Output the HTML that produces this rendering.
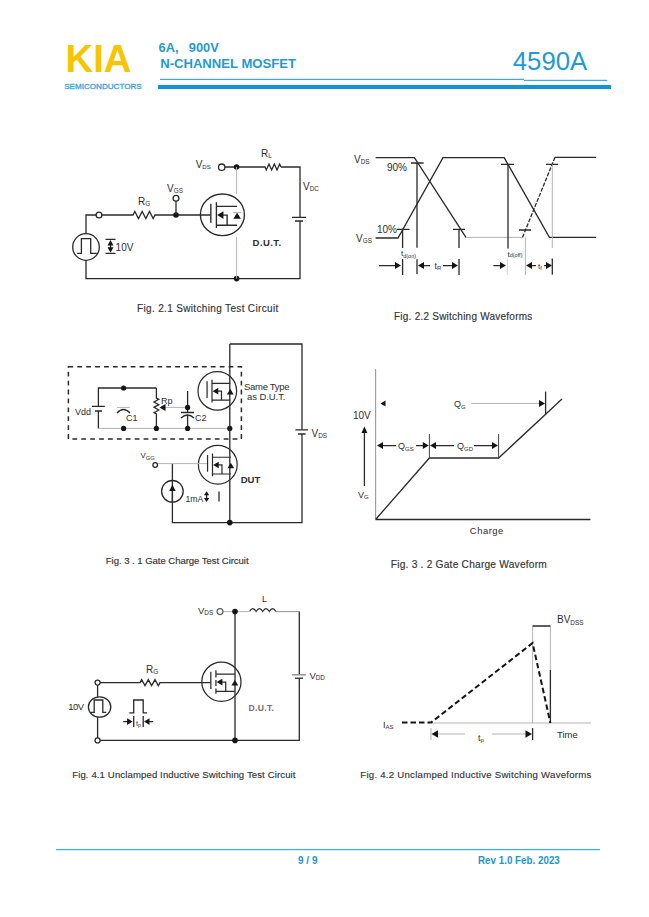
<!DOCTYPE html>
<html><head><meta charset="utf-8">
<style>
html,body{margin:0;padding:0;background:#fff;width:649px;height:917px;overflow:hidden}
svg{display:block;font-family:"Liberation Sans",sans-serif}
.w{stroke:#2a2a2a;stroke-width:1.3;fill:none}
.lg{stroke:#b5b5b5;stroke-width:1;fill:none}
.t{fill:#2e2e2e}
.dot{fill:#151515}
.arr{fill:#151515}
</style></head>
<body>
<svg width="649" height="917" viewBox="0 0 649 917">
<text x="65.5" y="72" font-size="38.5" font-weight="bold" fill="#f7c400" textLength="66" lengthAdjust="spacingAndGlyphs">KIA</text><text x="64.2" y="89.1" font-size="8.1" fill="#3aa8e0" stroke="#3aa8e0" stroke-width="0.35" textLength="77.5" lengthAdjust="spacing">SEMICONDUCTORS</text><text y="51.9" font-size="12.8" font-weight="bold" fill="#1f9ad5"><tspan x="158.6">6A,</tspan><tspan x="188.8">900V</tspan></text><text x="160.2" y="68.4" font-size="12.8" font-weight="bold" fill="#1f9ad5" textLength="135.8" lengthAdjust="spacingAndGlyphs">N-CHANNEL MOSFET</text><text x="512.8" y="70.2" font-size="25" fill="#1f9ad5" textLength="74.5" lengthAdjust="spacingAndGlyphs">4590A</text><rect x="160" y="78.8" width="364" height="1.1" fill="#2aa2dc"/><rect x="524" y="79.8" width="83.3" height="1.1" fill="#2aa2dc"/><rect x="158" y="85" width="453" height="4" fill="#0f96d2"/><rect x="56" y="849" width="544" height="1.2" fill="#3aaee6"/><text x="298" y="863.6" font-size="10" font-weight="bold" fill="#1d93cf">9 / 9</text><text x="478" y="863.6" font-size="10" font-weight="bold" fill="#1d93cf" textLength="81.8" lengthAdjust="spacingAndGlyphs">Rev 1.0 Feb. 2023</text><circle class="w" cx="86" cy="247" r="13.3"/><path class="w" d="M77.1,253.4H81.4V238.6H90.7V253.4H96.8"/><path class="w" d="M86,233.7V215H96.4"/><circle class="w" cx="99" cy="215" r="2.9"/><path class="w" d="M101.6,215H133l1.83,-3.50l3.67,7.00l3.67,-7.00l3.67,7.00l3.67,-7.00l3.67,7.00L155,215H200.3M200.3,215H210.5"/><circle class="dot" cx="176" cy="215" r="2.8"/><path class="w" d="M176,215V201.2"/><circle class="w" cx="176" cy="198.3" r="2.9"/><path class="w" d="M86,260.3V278.6H300V221M300,217.4V167H281"/><path class="w" stroke-width="1.8" d="M292,217.4H306M295,221H303"/><path class="w" d="M281,167l-1.33,-3.00l-2.67,6.00l-2.67,-6.00l-2.67,6.00l-2.67,-6.00l-2.67,6.00L265,167H224.8"/><circle class="w" cx="221.7" cy="167.2" r="3.2"/><circle class="dot" cx="236.6" cy="167" r="2.8"/><circle class="dot" cx="236.6" cy="278.6" r="2.8"/><path class="lg" d="M236.6,167V194M236.6,237V278.6"/><g transform="translate(222.4,214.8) scale(1.05)"><ellipse class="w" cx="0" cy="0" rx="20.95" ry="19.81"/><path class="w" d="M-11,-10.5V7.5M-5.7,-12V12.5M-5.7,-8H14M-5.7,10H14M0.5,0.3H4.5V10"/><path class="arr" d="M-5,0.3l6,-3.6v7.2z"/><path class="arr" d="M14,-2l-3.6,5.8h7.2z"/><path class="lg" d="M10,-2.2H18"/></g><path class="w" d="M105.5,239.4H115.5M105.5,253.4H115.5M110.5,243V250"/><path class="arr" d="M110.5,240l-3,5.5h6z M110.5,252.8l-3,-5.5h6z"/><text class="t" x="115.6" y="251" font-size="10" >10V</text><text class="t" x="252.6" y="245.8" font-size="9.5" font-weight="bold" textLength="28.6" lengthAdjust="spacing">D.U.T.</text><text class="t" x="195.7" y="168.4" font-size="10" >V<tspan font-size="6.2" dy="1">DS</tspan></text><text class="t" x="167" y="192" font-size="10" >V<tspan font-size="6.4" dy="1.3">GS</tspan></text><text class="t" x="138" y="205" font-size="10" >R<tspan font-size="6.4" dy="1.3">G</tspan></text><text class="t" x="261" y="157" font-size="10" >R<tspan font-size="6.4" dy="1.3">L</tspan></text><text class="t" x="303" y="190" font-size="10" >V<tspan font-size="6.4" dy="1.3">DC</tspan></text><text class="t" x="137" y="312.3" font-size="10" stroke="#444" stroke-width="0.15" textLength="141.3" lengthAdjust="spacing">Fig. 2.1 Switching Test Circuit</text><path class="w" d="M375.6,157.6H414.4L466,237.4"/><path class="lg" d="M466,237.4H522"/><path class="w" d="M375.6,238H398L443,157.6H504.2L549.4,237.4H596"/><path class="w" d="M522.5,237.4L555,157.3" stroke-dasharray="4,1.5"/><path class="w" d="M555,157.3H596"/><path class="w" d="M411,163H423.6M417,163V247.7M417,259.3V274M397,229.4H409.6M402.6,229.4V248M402.6,259V275M453,229.4H465M459,229.4V248M459,259V275"/><path class="w" d="M501,164.4H514M508,164.4V248.6M546,164.4H558M519,230H531"/><path class="lg" d="M552.3,164.4V248M525.4,237.4V275"/><path stroke="#ddd" stroke-width="1" d="M507.5,259V275"/><path class="w" d="M552.3,258.5V274.7"/><path class="w" d="M379,265.6H396M422,265.6H430M443,265.6H453M493.4,265.6H501M531,265.6H536M544,265.6H547"/><path class="arr" d="M401,265.6l-6,-3.5v7z M418,265.6l6,-3.5v7z M458,265.6l-6,-3.5v7z M506,265.6l-6,-3.5v7z M526,265.6l6,-3.5v7z M552,265.6l-6,-3.5v7z"/><text class="t" x="354" y="163" font-size="10" >V<tspan font-size="6.4" dy="1.3">DS</tspan></text><text class="t" x="356" y="242" font-size="10" >V<tspan font-size="6.4" dy="1.3">GS</tspan></text><text class="t" x="387" y="171" font-size="10" >90%</text><text class="t" x="377" y="233" font-size="10" >10%</text><text class="t" x="401" y="256" font-size="8" >t<tspan font-size="5.5" dy="1.5">d(on)</tspan></text><text class="t" x="434.5" y="268.8" font-size="9" >t<tspan font-size="6" dy="0.8">R</tspan></text><text class="t" x="507.5" y="256.6" font-size="8" >t<tspan font-size="5.5" dy="0.8">d(off)</tspan></text><text class="t" x="538" y="268.5" font-size="8" >t<tspan font-size="5.5" dy="1">f</tspan></text><text class="t" x="394" y="320" font-size="10" stroke="#444" stroke-width="0.15" textLength="138.3" lengthAdjust="spacing">Fig. 2.2 Switching Waveforms</text><rect x="68.4" y="366.8" width="173" height="72.2" fill="none" stroke="#2a2a2a" stroke-width="1.5" stroke-dasharray="4.8,4.1"/><path class="w" d="M98.4,406.4V388H156.4M98.4,411V428.4"/><path class="w" stroke-width="1.8" d="M92,406.4H104.8M95,411H102"/><path class="lg" d="M98.4,428.4H229.6"/><path class="lg" d="M117,407.4H130"/><path class="w" d="M117,413Q123.5,406 130,413"/><path class="w" d="M156.4,388V398l2.40,1.33l-4.80,2.67l4.80,2.67l-4.80,2.67l4.80,2.67l-4.80,2.67L156.4,414V428.4"/><path class="lg" d="M164,407.4H187.6"/><path class="arr" d="M159.5,407.4l6,-3.5v7z"/><path class="w" d="M187.6,391V407.4"/><path class="w" d="M187.6,407.4V412M181,412.5H194M181,418Q187.6,412 194,418M187.6,415V428.4"/><circle class="dot" cx="123.6" cy="388" r="2.6"/><circle class="dot" cx="123.6" cy="428.4" r="2.6"/><circle class="dot" cx="156.4" cy="428.4" r="2.6"/><circle class="dot" cx="187.6" cy="407.4" r="2.6"/><circle class="dot" cx="187.6" cy="428.4" r="2.6"/><circle class="dot" cx="229.8" cy="428.4" r="2.6"/><path class="w" d="M229.8,344V522.6M229.8,344H302V429.8M302,434V522.6H172.4V463.4"/><path class="w" stroke-width="1.8" d="M295.4,429.8H308M298,434H305.6"/><g transform="translate(217.3,390.9) scale(0.93)"><ellipse class="w" cx="0" cy="0" rx="20.75" ry="20.75"/><path class="w" d="M-11,-10.5V7.5M-5.7,-12V12.5M-5.7,-8H14M-5.7,10H14M0.5,0.3H4.5V10"/><path class="arr" d="M-5,0.3l6,-3.6v7.2z"/><path class="arr" d="M14,-2l-3.6,5.8h7.2z"/></g><g transform="translate(217.8,464.7) scale(0.93)"><ellipse class="w" cx="0" cy="0" rx="20.86" ry="20.86"/><path class="w" d="M-11,-10.5V7.5M-5.7,-12V12.5M-5.7,-8H14M-5.7,10H14M0.5,0.3H4.5V10"/><path class="arr" d="M-5,0.3l6,-3.6v7.2z"/><path class="arr" d="M14,-2l-3.6,5.8h7.2z"/></g><circle class="dot" cx="229.8" cy="522.6" r="2.8"/><path class="lg" d="M157.8,463.6H207"/><circle class="w" cx="155.2" cy="465" r="2.3"/><circle class="w" cx="172.4" cy="491.3" r="10.8"/><path class="w" d="M172.4,490V502"/><path class="arr" d="M172.4,484.5l-3.2,6.5h6.4z"/><path class="w" d="M206.6,494V499M219,491.6V501.6"/><path class="arr" d="M206.6,491.2l-2.6,4h5.2z M206.6,502l-2.6,-4h5.2z"/><text class="t" x="185.5" y="501.6" font-size="8.6" >1mA</text><text class="t" x="140.5" y="457.8" font-size="7.8" >V<tspan font-size="5.8" dy="1.8">GG</tspan></text><text class="t" x="240.7" y="483" font-size="9.5" font-weight="bold">DUT</text><text class="t" x="311.5" y="437" font-size="10" >V<tspan font-size="6.4" dy="1.3">DS</tspan></text><text class="t" x="244" y="390.2" font-size="9.5"  textLength="45.5" lengthAdjust="spacing">Same Type</text><text class="t" x="247" y="400.2" font-size="9.5"  textLength="38.5" lengthAdjust="spacing">as D.U.T.</text><text class="t" x="161" y="404" font-size="9" >Rp</text><text class="t" x="195" y="421" font-size="9" >C2</text><text class="t" x="126" y="421" font-size="9" >C1</text><text class="t" x="75" y="415" font-size="9" >Vdd</text><text class="t" x="105.8" y="564.2" font-size="9.6" stroke="#444" stroke-width="0.15" textLength="142.8" lengthAdjust="spacing">Fig. 3 . 1 Gate Charge Test Circuit</text><path stroke="#999" stroke-width="1.1" fill="none" d="M375.6,369V519.5"/><path class="w" d="M375.6,519.5H590.4M375.6,519.5L429.4,458H498.6L562,399"/><path stroke="#444" stroke-width="1" fill="none" d="M429.4,434V458M498.6,434V458"/><path class="w" d="M545.6,391.6V414.5"/><path class="w" d="M382,445.6H396M416,445.6H424M434,445.6H454M474,445.6H493"/><path class="lg" d="M471,403.4H540"/><path class="arr" d="M377,445.6l6,-3.5v7z M428.8,445.6l-6,-3.5v7z M430,445.6l6,-3.5v7z M498,445.6l-6,-3.5v7z M545,403.4l-6,-3.5v7z M380.5,403.4l5,-3v6z"/><path class="w" d="M364.4,432V486"/><path class="arr" d="M364.4,426.6l-3,6.5h6z"/><text class="t" x="353" y="418.5" font-size="10" >10V</text><text class="t" x="358" y="498.3" font-size="9" >V<tspan font-size="6" dy="1">G</tspan></text><text class="t" x="398" y="449" font-size="9" >Q<tspan font-size="6" dy="1.5">GS</tspan></text><text class="t" x="457" y="449" font-size="9" >Q<tspan font-size="6" dy="1.5">GD</tspan></text><text class="t" x="454" y="407" font-size="9" >Q<tspan font-size="6" dy="1.5">G</tspan></text><text class="t" x="469.8" y="534.3" font-size="9.4"  textLength="33.5" lengthAdjust="spacing">Charge</text><text class="t" x="390.8" y="567.6" font-size="10.2" stroke="#444" stroke-width="0.15" textLength="156" lengthAdjust="spacing">Fig. 3 . 2 Gate Charge Waveform</text><circle class="w" cx="97.6" cy="682.6" r="2.5"/><path class="w" d="M100.1,682.6H140l1.67,-3.00l3.33,6.00l3.33,-6.00l3.33,6.00l3.33,-6.00l3.33,6.00L160,682.6H210.5"/><path class="w" d="M97.6,685.1V696.8M97.6,717.2V737.9"/><ellipse class="w" cx="99.6" cy="707" rx="11.2" ry="10.2"/><path class="w" d="M90.8,712.3H94.2V700H102.8V712.3H106.2"/><circle class="w" cx="97.6" cy="740.4" r="2.5"/><path class="w" d="M100.1,740.4H299.3V678.4M299.3,675V611.6"/><path stroke="#999" stroke-width="1.1" fill="none" d="M299.8,611.6H276"/><path stroke="#999" stroke-width="1.6" fill="none" d="M292,674.8H306"/><path class="w" stroke-width="1.8" d="M295,678.2H303"/><path stroke="#333" stroke-width="1.1" fill="none" d="M249.5,611.6 q3.3,-6 6.6,0 q3.3,-6 6.6,0 q3.3,-6 6.6,0 q3.3,-6 6.6,0"/><path class="lg" d="M222.5,611.6H249.5"/><circle stroke="#555" stroke-width="1.1" fill="none" cx="220" cy="611.6" r="3"/><path class="w" d="M235,611.6V740.4"/><circle class="dot" cx="235" cy="611.6" r="2.8"/><circle class="dot" cx="235" cy="740.4" r="2.8"/><g transform="translate(221.4,681.8) scale(0.96)"><ellipse class="w" cx="0" cy="0" rx="20.42" ry="20.42"/><path class="w" d="M-11,-10.5V7.5M-5.7,-12V-4.5M-5.7,-2V4.5M-5.7,7V12.5M-5.7,-8H14M-5.7,10H14M0.5,0.3H4.5V10"/><path class="arr" d="M-5,0.3l6,-3.6v7.2z"/><path class="arr" d="M14,-2l-3.6,5.8h7.2z"/></g><path class="w" d="M129.3,712.8H133.7V700H143.2V712.8H147M133.7,716V727M143.2,716V727M123.2,721.6H128M148.5,721.6H153.2"/><path class="arr" d="M132.6,721.6l-5.5,-3.3v6.6z M144,721.6l5.5,-3.3v6.6z"/><text class="t" x="136" y="726" font-size="7" >t<tspan font-size="5" dy="1">p</tspan></text><text class="t" x="146" y="673" font-size="10" >R<tspan font-size="6.4" dy="1.3">G</tspan></text><text class="t" x="68.3" y="710.2" font-size="9.5"  textLength="15.8" lengthAdjust="spacing">10V</text><text class="t" x="198" y="614" font-size="9.5" >V<tspan font-size="6.4" dy="1.3">DS</tspan></text><text class="t" x="262" y="602" font-size="9" >L</text><text class="t" x="309.4" y="678.5" font-size="9.5" >V<tspan font-size="6.4" dy="1.3">DD</tspan></text><text class="t" x="248.4" y="710.7" font-size="8.6" style="fill:#707070" font-weight="bold" textLength="25.6" lengthAdjust="spacing">D.U.T.</text><text class="t" x="72.2" y="777.8" font-size="9.6" stroke="#444" stroke-width="0.15" textLength="223.3" lengthAdjust="spacing">Fig. 4.1 Unclamped Inductive Switching Test Circuit</text><path class="lg" d="M431,723H591M532.6,723V626M550.4,626V723"/><path class="w" d="M532.6,626H550.4M550.4,670V723"/><path stroke="#151515" stroke-width="2" fill="none" stroke-dasharray="5.5,3" d="M402,722.6H431L532.6,643L550.4,723"/><path class="lg" d="M437,734H465M492,734H527"/><path class="lg" d="M431,728V740"/><path class="w" d="M532.6,728V740"/><path class="arr" d="M431.5,734l6.5,-3.8v7.6z M532,734l-6.5,-3.8v7.6z"/><text class="t" x="383" y="728" font-size="9" >I<tspan font-size="6" dy="1">AS</tspan></text><text class="t" x="478" y="741" font-size="9" >t<tspan font-size="6" dy="1">p</tspan></text><text class="t" x="557" y="623" font-size="10" >BV<tspan font-size="6.5" dy="1.5">DSS</tspan></text><text class="t" x="557" y="738" font-size="9.5" >Time</text><text class="t" x="360.3" y="777.8" font-size="9.6" stroke="#444" stroke-width="0.15" textLength="231" lengthAdjust="spacing">Fig. 4.2 Unclamped Inductive Switching Waveforms</text></svg>
</body></html>
